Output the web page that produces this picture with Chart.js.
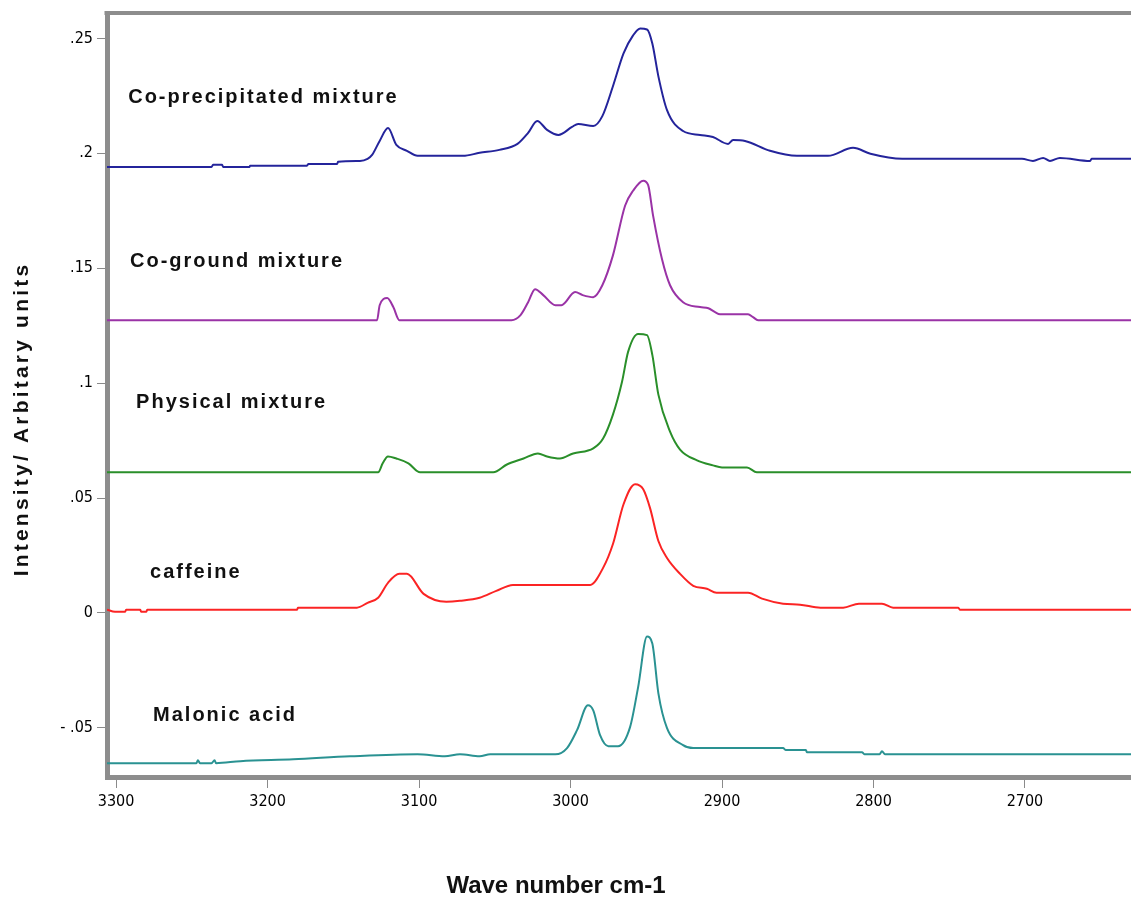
<!DOCTYPE html>
<html>
<head>
<meta charset="utf-8">
<title>Raman spectra, C-H stretching region</title>
<script src="https://cdn.jsdelivr.net/npm/chart.js@4.4.0/dist/chart.umd.min.js"></script>
<style>
  html, body { margin: 0; padding: 0; background: #fff; }
  #spectra { display: block; }
</style>
</head>
<body>
<canvas id="spectra" width="1131" height="898"></canvas>
<script>
// axis ranges (wave number axis runs high -> low)
const waveMin = 2630;
const waveMax = 3306;
const intensityMin = -0.0714;
const intensityMax = 0.2608;

const xTickValues = [2700, 2800, 2900, 3000, 3100, 3200, 3300];
const yTickValues = [-0.05, 0, 0.05, 0.1, 0.15, 0.2, 0.25];
const yTickLabels = ['- .05', '0', '.05', '.1', '.15', '.2', '.25'];

// Co-precipitated mixture
const coprecipWave = [3306, 3237, 3236, 3230, 3229.4, 3212, 3211.5, 3174, 3173, 3154, 3153.5, 3139, 3134, 3131,
	3126, 3120.5, 3115, 3108, 3101, 3071, 3060, 3047, 3035, 3028, 3022, 3015.5, 3008, 2999, 2995, 2985, 2979,
	2972, 2965, 2958.7, 2954, 2949.5, 2946, 2942, 2936.3, 2925.7, 2914.5, 2906, 2896, 2892.7, 2884.8, 2868.3,
	2850.5, 2830, 2813.5, 2802, 2781, 2702, 2694.7, 2688, 2683.5, 2677, 2657, 2656, 2630];
const coprecipInt = [.1941, .1941, .1950, .1950, .1941, .1941, .1946, .1946, .1954, .1954, .1963, .1967, .1976, .1993,
	.2054, .2110, .2037, .2011, .1989, .1989, .2002, .2015, .2041, .2089, .2141, .2102, .2080, .2115, .2128, .2119, .2162,
	.2292, .2435, .2513, .2543, .2539, .2478, .2335, .2188, .2097, .2080, .2071, .2041, .2058, .2054, .2011,
	.1989, .1989, .2024, .1998, .1976, .1976, .1967, .1980, .1967, .1980, .1967, .1976, .1976];

// Co-ground mixture
const cogroundWave = [3306, 3127.7, 3126, 3121, 3117, 3113, 3039, 3033, 3028, 3023.4, 3018, 3010, 3006, 2997, 2992,
	2985, 2979, 2972, 2964, 2958.7, 2952, 2948.8, 2945.5, 2939.6, 2934.3, 2925.7, 2914.5, 2909, 2904.6, 2901.3,
	2882.8, 2879.5, 2876.2, 2630];
const cogroundInt = [.1274, .1274, .1339, .1370, .1331, .1274, .1274, .1296, .1352, .1409, .1383, .1339, .1339, .1396, .1383,
	.1374, .1426, .1556, .1772, .1837, .1881, .1863, .1729, .1539, .1426, .1352, .1331, .1326, .1309, .1300,
	.1300, .1287, .1274, .1274];

// Physical mixture
const physicalWave = [3306, 3127, 3124, 3120.5, 3115, 3107, 3099.3, 3051, 3042, 3031, 3021.5, 3015.5, 3007, 2998.3,
	2985, 2978.5, 2972, 2966, 2962, 2955.4, 2949.5, 2946, 2942, 2934.3, 2927.7, 2916.5, 2906, 2900, 2883.5, 2877, 2630];
const physicalInt = [.0612, .0612, .0651, .0681, .0672, .0651, .0612, .0612, .0646, .0672, .0694, .0681, .0672, .0694,
	.0716, .0759, .0863, .1006, .1136, .1214, .1209, .1123, .0950, .0789, .0711, .0664, .0642, .0633, .0633, .0612, .0612];

// caffeine
const caffeineWave = [3306, 3300.7, 3294, 3293.4, 3284, 3283.5, 3280, 3279.5, 3180.5, 3180, 3141, 3134, 3127, 3120.5,
	3113, 3108, 3097, 3082, 3073, 3060, 3049, 3038, 2987, 2978.5, 2972, 2965, 2957.4, 2952, 2947.5, 2942, 2936.3,
	2927.7, 2919, 2910, 2903.6, 2882.8, 2873.6, 2859.7, 2848.5, 2835, 2820, 2809.6, 2794.4, 2787, 2744, 2743, 2630];
const caffeineInt = [.0014, .0005, .0005, .0014, .0014, .0005, .0005, .0014, .0014, .0023, .0023, .0044, .0066, .0131,
	.0170, .0170, .0083, .0049, .0053, .0066, .0096, .0122, .0122, .0196, .0300, .0473, .0560, .0538, .0456, .0313, .0239,
	.0170, .0118, .0105, .0088, .0088, .0062, .0040, .0036, .0023, .0023, .0040, .0040, .0023, .0023, .0014, .0014];

// Malonic acid
const malonicWave = [3306, 3247, 3246, 3244.6, 3237, 3235, 3234, 3218, 3183, 3145.5, 3101, 3083, 3073, 3060, 3053,
	3010, 3002.3, 2995.7, 2988.5, 2985, 2980.5, 2975, 2968.6, 2960.7, 2955.4, 2949.5, 2946, 2942, 2936.3, 2925.7,
	2919, 2859.7, 2857.8, 2844.6, 2844, 2807.6, 2806, 2796, 2794.4, 2792.4, 2630];
const malonicInt = [-.0654, -.0654, -.0641, -.0654, -.0654, -.0641, -.0654, -.0645, -.0637, -.0624, -.0615, -.0624, -.0615, -.0624, -.0615,
	-.0615, -.0588, -.0510, -.0402, -.0424, -.0532, -.0580, -.0580, -.0497, -.0324, -.0103, -.0133, -.0350, -.0501, -.0575,
	-.0588, -.0588, -.0597, -.0597, -.0606, -.0606, -.0615, -.0615, -.0602, -.0615, -.0615];

// trace names, written next to each trace (left edge, baseline)
const seriesNames = ['Co-precipitated mixture', 'Co-ground mixture', 'Physical mixture', 'caffeine', 'Malonic acid'];
const labelWave = [3292, 3290.8, 3286.8, 3277.6, 3275.6];
const labelInt = [.2218, .1504, .0893, .0153, -.0471];

const seriesColors = ['#24249b', '#9a33a6', '#2a8f2a', '#fb2424', '#2a9292'];

function toPoints(wave, intensity) {
	return wave.map((w, i) => ({ x: w, y: intensity[i] }));
}

const traces = [
	toPoints(coprecipWave, coprecipInt),
	toPoints(cogroundWave, cogroundInt),
	toPoints(physicalWave, physicalInt),
	toPoints(caffeineWave, caffeineInt),
	toPoints(malonicWave, malonicInt)
];

const boldFamily = "'Liberation Sans', Arial, sans-serif";
const tickFont = { family: "'Liberation Sans Narrow', 'DejaVu Sans Condensed', 'Arial Narrow', sans-serif", size: 16 };
const frameColor = '#8d8d8d';

// top edge of the frame, trace names and axis titles
const annotations = {
	id: 'annotations',
	afterDatasetsDraw(chart) {
		const { ctx, scales } = chart;
		ctx.save();
		ctx.fillStyle = '#111';
		ctx.font = `bold 20px ${boldFamily}`;
		ctx.letterSpacing = '2px';
		ctx.textAlign = 'left';
		ctx.textBaseline = 'alphabetic';
		seriesNames.forEach((name, i) => {
			ctx.fillText(name, scales.x.getPixelForValue(labelWave[i]), scales.y.getPixelForValue(labelInt[i]));
		});
		ctx.restore();
	},
	afterDraw(chart) {
		const { ctx, chartArea } = chart;
		ctx.save();
		ctx.strokeStyle = frameColor;
		ctx.lineWidth = 4;
		ctx.beginPath();
		ctx.moveTo(chartArea.left - 2.5, chartArea.top - 0.5);
		ctx.lineTo(chartArea.right, chartArea.top - 0.5);
		ctx.stroke();

		ctx.fillStyle = '#111';
		ctx.textAlign = 'center';
		ctx.textBaseline = 'middle';
		ctx.font = `bold 24px ${boldFamily}`;
		ctx.fillText('Wave number cm-1', 556, 886);

		ctx.translate(22, 419);
		ctx.rotate(-Math.PI / 2);
		ctx.font = `bold 21px ${boldFamily}`;
		ctx.letterSpacing = '3.2px';
		ctx.fillText('Intensity/ Arbitary units', 0, 0);
		ctx.restore();
	}
};

new Chart(document.getElementById('spectra'), {
	type: 'line',
	data: {
		datasets: traces.map((points, i) => ({
			label: seriesNames[i],
			data: points,
			borderColor: seriesColors[i],
			borderWidth: 2,
			pointRadius: 0,
			cubicInterpolationMode: 'monotone',
			fill: false
		}))
	},
	options: {
		responsive: false,
		animation: false,
		devicePixelRatio: 1,
		layout: { padding: { top: 10, left: 0, right: 0, bottom: 0 } },
		plugins: {
			legend: { display: false },
			tooltip: { enabled: false }
		},
		scales: {
			x: {
				type: 'linear',
				reverse: true,
				min: waveMin,
				max: waveMax,
				afterFit: (scale) => { scale.height = 121; },
				afterBuildTicks: (scale) => { scale.ticks = xTickValues.map(v => ({ value: v })); },
				ticks: { font: tickFont, color: '#000', padding: 4, maxRotation: 0, autoSkip: false, callback: (v) => String(v) },
				grid: { drawOnChartArea: false, tickLength: 11, tickColor: '#8a8a8a', tickWidth: 1 },
				border: { color: frameColor, width: 5 }
			},
			y: {
				type: 'linear',
				min: intensityMin,
				max: intensityMax,
				afterFit: (scale) => { scale.width = 107; },
				afterBuildTicks: (scale) => { scale.ticks = yTickValues.map(v => ({ value: v })); },
				ticks: { font: tickFont, color: '#000', padding: 4, autoSkip: false, callback: (v, i) => yTickLabels[i] },
				grid: { drawOnChartArea: false, tickLength: 10, tickColor: '#8a8a8a', tickWidth: 1 },
				border: { color: frameColor, width: 5 }
			}
		}
	},
	plugins: [annotations]
});
</script>
</body>
</html>
